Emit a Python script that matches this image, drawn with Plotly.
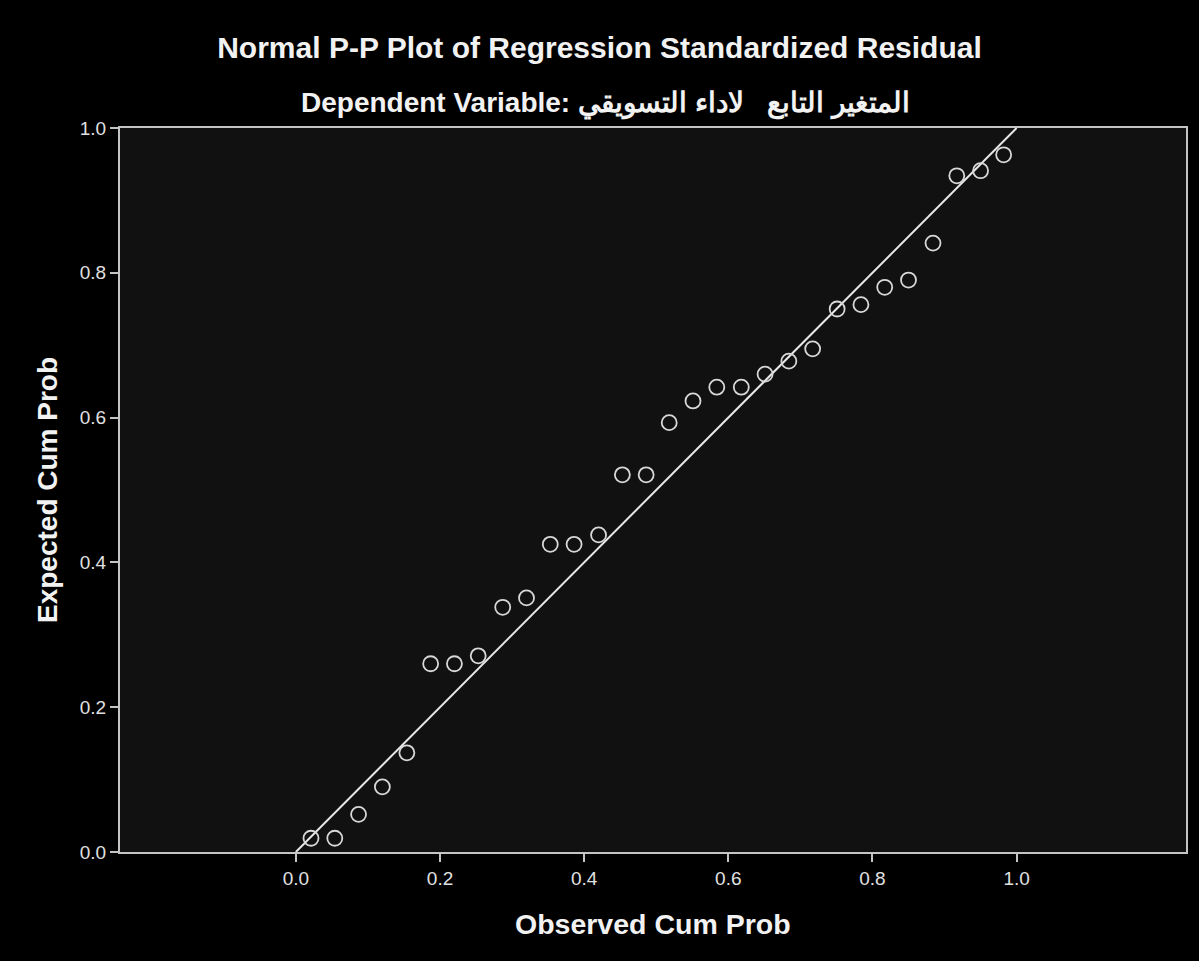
import plotly.graph_objects as go

observed = [0.021, 0.054, 0.087, 0.120, 0.154, 0.187, 0.220, 0.253, 0.287, 0.320,
            0.353, 0.386, 0.420, 0.453, 0.486, 0.518, 0.551, 0.584, 0.618, 0.651,
            0.684, 0.717, 0.751, 0.784, 0.817, 0.850, 0.884, 0.917, 0.950, 0.982]
expected = [0.019, 0.019, 0.052, 0.090, 0.137, 0.260, 0.260, 0.271, 0.338, 0.351,
            0.425, 0.425, 0.438, 0.521, 0.521, 0.593, 0.623, 0.642, 0.642, 0.660,
            0.678, 0.695, 0.750, 0.756, 0.780, 0.790, 0.841, 0.934, 0.941, 0.963]
ref_line = [0.0, 1.0]
tick_vals = [0.0, 0.2, 0.4, 0.6, 0.8, 1.0]
tick_text = ["0.0", "0.2", "0.4", "0.6", "0.8", "1.0"]

FONT = "Liberation Sans, Arial, sans-serif"
AX = "#c4c4c4"
TXT = "#f2f2f2"

fig = go.Figure()
fig.add_trace(go.Scatter(x=ref_line, y=ref_line, mode="lines",
                         line=dict(color="#e8e8e8", width=2), hoverinfo="skip",
                         showlegend=False))
fig.add_trace(go.Scatter(x=observed, y=expected, mode="markers",
                         marker=dict(symbol="circle-open", size=15,
                                     color="#d8d8d8", line=dict(width=1.8, color="#d8d8d8")),
                         showlegend=False))

fig.update_layout(
    width=1199, height=961,
    paper_bgcolor="#000000", plot_bgcolor="#111111",
    margin=dict(l=120, r=11, t=128, b=109),
    font=dict(family=FONT, color=TXT),
    title=dict(text="<b>Normal P-P Plot of Regression Standardized Residual</b>",
               x=0.5, xref="container", y=1 - 47 / 961, yref="container",
               xanchor="center", yanchor="middle",
               font=dict(size=30, color=TXT, family=FONT)),
    xaxis=dict(range=[-0.244, 1.235], tickvals=tick_vals, ticktext=tick_text,
               showgrid=False, zeroline=False, showline=True, linecolor=AX, linewidth=2,
               mirror=True, ticks="outside", ticklen=8, tickwidth=2, tickcolor=AX,
               tickfont=dict(size=19, color="#e0e0e0")),
    yaxis=dict(range=[0, 1], tickvals=tick_vals, ticktext=tick_text,
               showgrid=False, zeroline=False, showline=True, linecolor=AX, linewidth=2,
               mirror=True, ticks="outside", ticklen=8, tickwidth=2, tickcolor=AX,
               tickfont=dict(size=19, color="#e0e0e0")),
    annotations=[
        dict(text="<b>Dependent Variable: المتغير التابع   لاداء التسويقي</b>",
             x=(606 - 120) / 1068, xref="paper", y=1, yref="paper", yshift=25,
             xanchor="center", yanchor="middle", showarrow=False,
             font=dict(size=28, color=TXT, family=FONT)),
        dict(text="<b>Observed Cum Prob</b>", x=0.5, xref="paper", y=0, yref="paper",
             yshift=-72, xanchor="center", yanchor="middle", showarrow=False,
             font=dict(size=28.5, color=TXT, family=FONT)),
        dict(text="<b>Expected Cum Prob</b>", x=0, xref="paper", y=0.5, yref="paper",
             xshift=-73, xanchor="center", yanchor="middle", textangle=-90, showarrow=False,
             font=dict(size=28, color=TXT, family=FONT)),
    ],
)

fig.write_html("out.html", config={"displayModeBar": False},
               post_script="document.body.style.margin='0';document.body.style.background='#000';")
